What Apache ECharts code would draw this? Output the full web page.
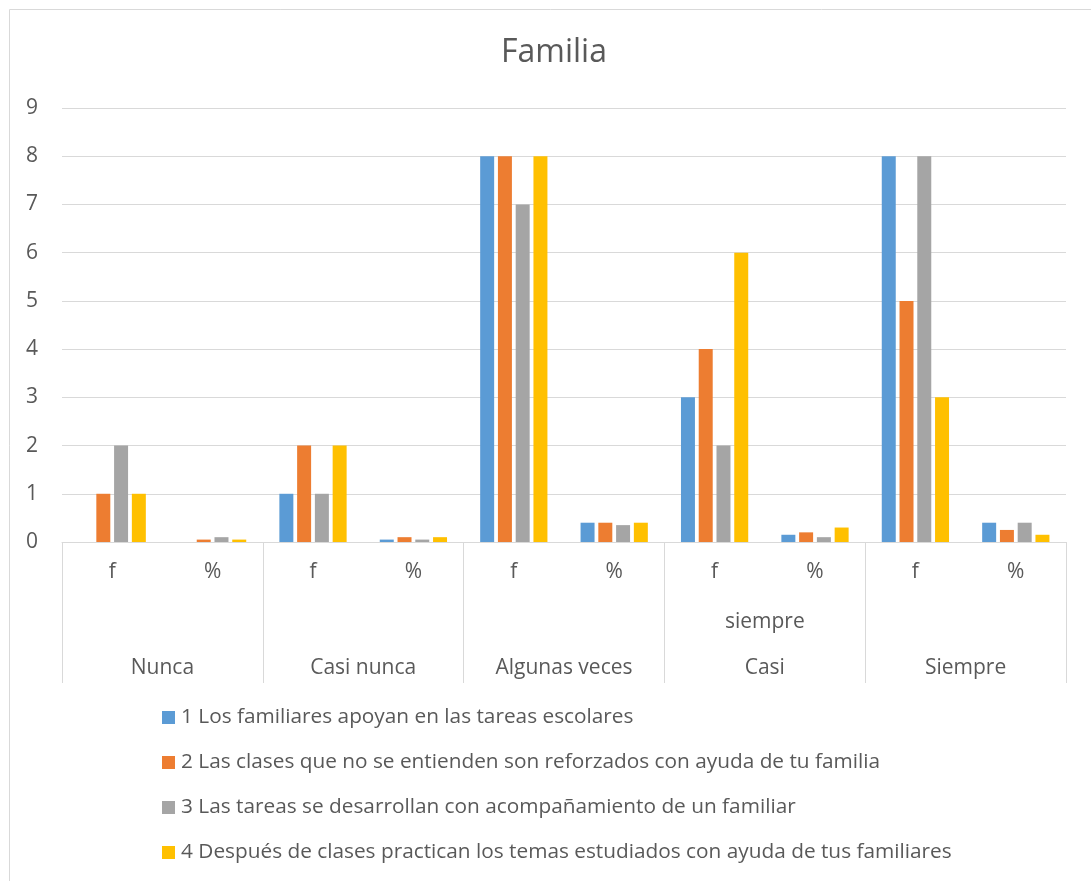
<!DOCTYPE html>
<html><head><meta charset="utf-8">
<script src="https://cdn.jsdelivr.net/npm/echarts@6/dist/echarts.min.js"></script>
<style>html,body{margin:0;padding:0;background:#fff}#c{width:1091px;height:881px}</style>
</head><body><div id="c"></div>
<script>
const groups = ['Nunca','Casi nunca','Algunas veces','Casi siempre','Siempre'];
const subCats = ['f','%','f','%','f','%','f','%','f','%'];
const seriesNames = [
  '1 Los familiares apoyan en las tareas escolares',
  '2 Las clases que no se entienden son reforzados con ayuda de tu familia',
  '3 Las tareas se desarrollan con acompañamiento de un familiar',
  '4 Después de clases practican los temas estudiados con ayuda de tus familiares'
];
const s1 = [0, 0,    1, 0.05, 8, 0.4,  3, 0.15, 8, 0.4];
const s2 = [1, 0.05, 2, 0.1,  8, 0.4,  4, 0.2,  5, 0.25];
const s3 = [2, 0.1,  1, 0.05, 7, 0.35, 2, 0.1,  8, 0.4];
const s4 = [1, 0.05, 2, 0.1,  8, 0.4,  6, 0.3,  3, 0.15];
const yTicks = [0,1,2,3,4,5,6,7,8,9];
const colors = ['#5B9BD5','#ED7D31','#A5A5A5','#FFC000'];

const font = '"Open Sans", "DejaVu Sans", sans-serif';
const chart = echarts.init(document.getElementById('c'));
const allData = [s1,s2,s3,s4];
chart.setOption({
  animation:false,
  textStyle:{fontFamily:font},
  title:{text:'Familia',left:496,top:32,textStyle:{fontFamily:font,fontSize:32,fontWeight:'normal',color:'#595959'}},
  graphic:[{type:'rect',shape:{x:9.5,y:9.5,width:1200,height:1000},style:{fill:'none',stroke:'#d9d9d9',lineWidth:1},silent:true,z:-1}],
  grid:{left:62,right:25,top:108,bottom:339,containLabel:false},
  legend:{orient:'vertical',left:157,top:702,itemGap:24,itemWidth:13,itemHeight:13,icon:'rect',
    data:seriesNames,textStyle:{fontFamily:font,fontSize:20.8,color:'#595959',padding:[0,0,0,1]}},
  xAxis:[
    {type:'category',data:subCats,position:'bottom',
     axisLine:{show:true,lineStyle:{color:'#d9d9d9',width:1}},axisTick:{show:false},
     axisLabel:{margin:20,fontSize:21,color:'#595959',fontFamily:font}},
    {type:'category',data:groups,position:'bottom',gridIndex:0,
     axisLine:{show:false},
     axisTick:{show:true,alignWithLabel:false,length:141,lineStyle:{color:'#d9d9d9',width:1}},
     axisLabel:{margin:69,fontSize:21,color:'#595959',fontFamily:font,lineHeight:23,
       formatter:function(v){ if(v==='Casi siempre') return 'siempre\n\nCasi'; return ' \n\n'+v; }}}
  ],
  yAxis:{type:'value',min:yTicks[0],max:yTicks[yTicks.length-1],interval:1,
    axisLine:{show:false},axisTick:{show:false},
    axisLabel:{margin:24,fontSize:21,color:'#595959',fontFamily:font},
    splitLine:{lineStyle:{color:'#d9d9d9',width:1}}},
  series: seriesNames.map((n,i)=>({
    name:n,type:'bar',xAxisIndex:0,data:allData[i],
    barCategoryGap:'33%',barGap:'27%',
    itemStyle:{color:colors[i]}
  }))
});
</script></body></html>
